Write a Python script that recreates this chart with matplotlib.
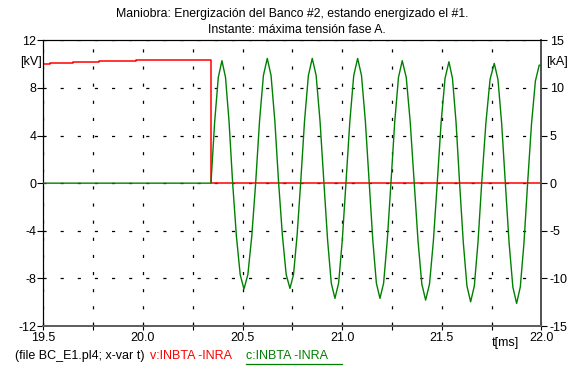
import numpy as np
import matplotlib
matplotlib.use("Agg")
import matplotlib.pyplot as plt
from matplotlib.lines import Line2D

plt.rcParams['font.family'] = ['Liberation Sans', 'DejaVu Sans']

# voltage v:INBTA -INRA [kV] (step trace)
t_v = [19.5, 19.534, 19.648, 19.781, 19.965, 20.341, 22.0]
v_kv = [9.99, 10.07, 10.15, 10.26, 10.35, 0.0, 0.0]

# current c:INBTA -INRA [kA], one row per half cycle
t_c = [19.5, 20.3415,
       20.3599, 20.3782, 20.3966, 20.4145, 20.4324, 20.4503,
       20.4692, 20.4881, 20.5070, 20.5266, 20.5461, 20.5657,
       20.5851, 20.6046, 20.6240, 20.6430, 20.6621, 20.6811,
       20.7000, 20.7189, 20.7378, 20.7557, 20.7736, 20.7915,
       20.8109, 20.8303, 20.8497, 20.8693, 20.8888, 20.9084,
       20.9268, 20.9452, 20.9636, 20.9820, 21.0004, 21.0188,
       21.0384, 21.0579, 21.0775, 21.0969, 21.1163, 21.1357,
       21.1536, 21.1715, 21.1894, 21.2078, 21.2262, 21.2446,
       21.2635, 21.2824, 21.3013, 21.3214, 21.3414, 21.3615,
       21.3806, 21.3996, 21.4187, 21.4381, 21.4575, 21.4769,
       21.4965, 21.5160, 21.5356, 21.5534, 21.5713, 21.5891,
       21.6076, 21.6260, 21.6445, 21.6630, 21.6815, 21.7000,
       21.7210, 21.7420, 21.7630, 21.7816, 21.8001, 21.8187,
       21.8376, 21.8564, 21.8753, 21.8937, 21.9121, 21.9305,
       21.9499, 21.9693, 21.9887, 22.0]
i_ka = [0.0, 0.0,
        6.4, 11.1, 12.86, 11.1, 6.4, 0.0,
        -5.6, -9.6, -11.12, -9.6, -5.6, 0.0,
        6.5, 11.3, 13.1, 11.3, 6.5, 0.0,
        -5.5, -9.6, -11.05, -9.6, -5.5, 0.0,
        6.5, 11.3, 13.1, 11.3, 6.5, 0.0,
        -6.0, -10.5, -12.1, -10.5, -6.0, 0.0,
        6.5, 11.3, 13.1, 11.3, 6.5, 0.0,
        -6.0, -10.5, -12.1, -10.5, -6.0, 0.0,
        6.4, 11.1, 12.86, 11.1, 6.4, 0.0,
        -6.1, -10.6, -12.28, -10.6, -6.1, 0.0,
        6.4, 11.0, 12.75, 11.0, 6.4, 0.0,
        -6.2, -10.8, -12.46, -10.8, -6.2, 0.0,
        6.3, 10.9, 12.58, 10.9, 6.3, 0.0,
        -6.3, -10.9, -12.63, -10.9, -6.3, 0.0,
        6.2, 10.7, 12.4, 12.3]

x_ticks = [19.5, 19.75, 20.0, 20.25, 20.5, 20.75, 21.0, 21.25, 21.5, 21.75, 22.0]
x_labels = ['19.5', '', '20.0', '', '20.5', '', '21.0', '', '21.5', '', '22.0']
kv_ticks = [-12, -8, -4, 0, 4, 8, 12]
ka_ticks = [-15, -10, -5, 0, 5, 10, 15]

fs = 9
fig = plt.figure(figsize=(5.68, 3.67), dpi=100)
ax = fig.add_axes([0.0762, 0.1117, 0.8771, 0.7785])
ax2 = ax.twinx()

ax.plot(t_v, v_kv, color='#ff0000', lw=1.1, drawstyle='steps-post', zorder=3)
ax2.plot(t_c, i_ka, color='#008000', lw=1.0, zorder=3)

ax.set_xlim(19.5, 22.0)
ax.set_ylim(-12, 12)
ax2.set_ylim(-15, 15)
ax.set_xticks(x_ticks)
ax.set_xticklabels(x_labels, fontsize=fs)
ax.set_yticks(kv_ticks)
ax.set_yticklabels([str(v) for v in kv_ticks], fontsize=fs)
ax2.set_yticks(ka_ticks)
ax2.set_yticklabels([str(v) for v in ka_ticks], fontsize=fs)

dash = (0, (2.5, 11.2))
ax.grid(True, color='black', lw=0.9, linestyle=dash)

ax.tick_params(axis='y', direction='out', length=4, width=0.8, pad=1)
ax.tick_params(axis='x', direction='inout', length=6, width=0.8, pad=1)
ax2.tick_params(axis='y', direction='out', length=4, width=0.8, pad=2)

for a in (ax, ax2):
    a.spines['left'].set_color('black')
    a.spines['top'].set_color('black')
    a.spines['right'].set_color('#505050')
    a.spines['bottom'].set_color('#606060')
    a.spines['bottom'].set_linewidth(1.4)
    a.spines['right'].set_linewidth(1.2)

fig.text(0.515, 0.963, 'Maniobra: Energización del Banco #2, estando energizado el #1.',
         ha='center', va='center', fontsize=8.8)
fig.text(0.522, 0.917, 'Instante: máxima tensión fase A.', ha='center', va='center', fontsize=8.8)

fig.text(20 / 568, 1 - 62 / 367, '[kV]', ha='left', va='center', fontsize=fs)
fig.text(546 / 568, 1 - 62 / 367, '[kA]', ha='left', va='center', fontsize=fs)
fig.text(492 / 568, 1 - 343 / 367, 't[ms]', ha='left', va='center', fontsize=fs)

y_leg = 1 - 356 / 367
fig.text(15 / 568, y_leg, '(file BC_E1.pl4; x-var t)', ha='left', va='center', fontsize=fs)
fig.text(150 / 568, y_leg, 'v:INBTA -INRA', ha='left', va='center', fontsize=fs, color='#ff0000')
fig.text(246 / 568, y_leg, 'c:INBTA -INRA', ha='left', va='center', fontsize=fs, color='#008000')
fig.add_artist(Line2D([246 / 568, 342 / 568], [1 - 364 / 367, 1 - 364 / 367],
                      color='#008000', lw=0.9, transform=fig.transFigure))

fig.savefig('out.png', dpi=100)
